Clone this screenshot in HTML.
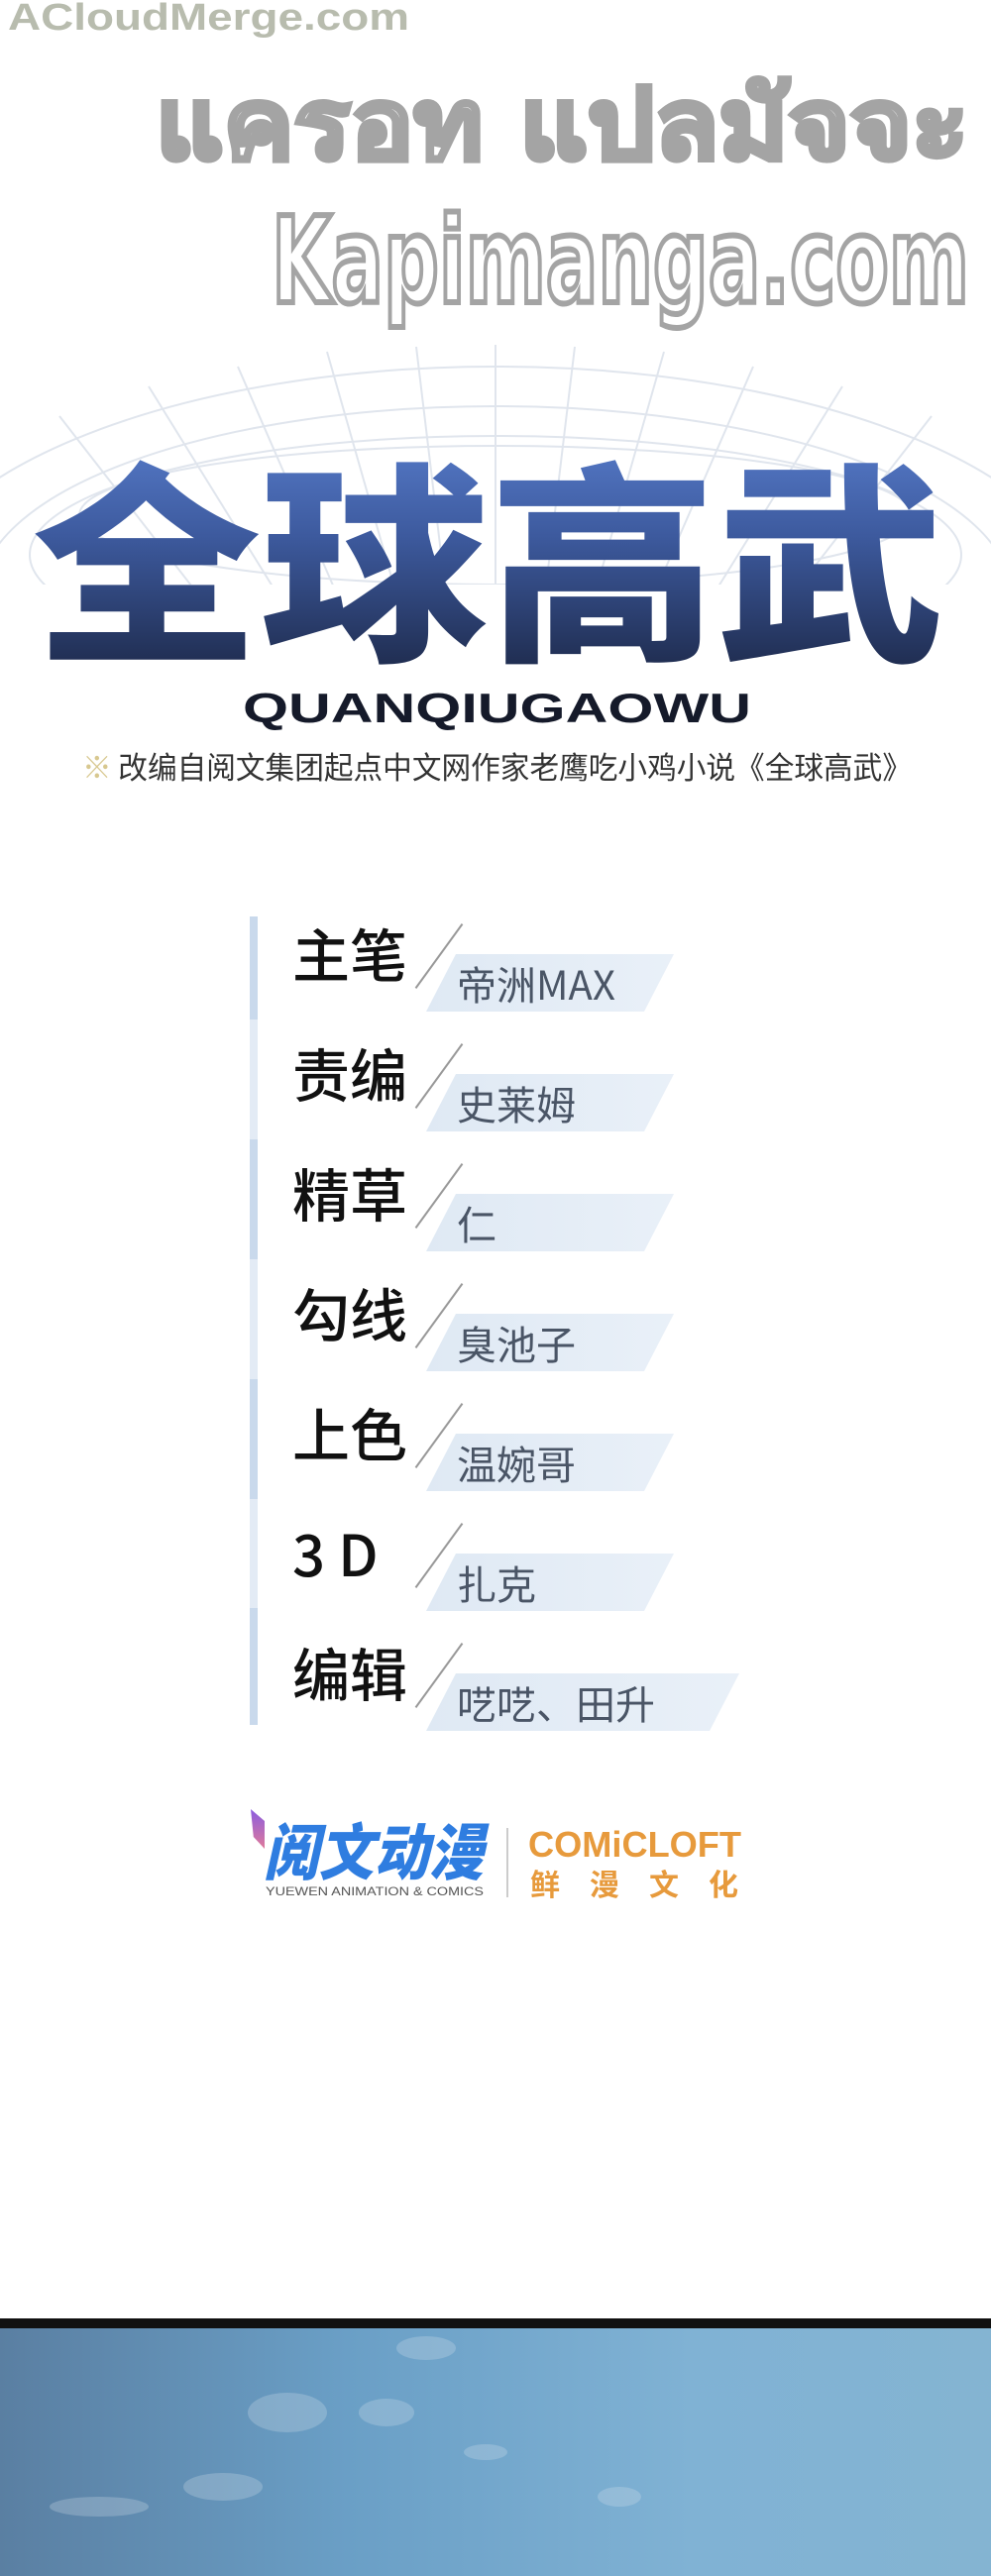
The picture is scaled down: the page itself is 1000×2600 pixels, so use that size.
<!DOCTYPE html>
<html><head><meta charset="utf-8">
<style>
html,body{margin:0;padding:0}
body{width:1000px;height:2600px;position:relative;background:#fff;overflow:hidden;font-family:"Liberation Sans","Noto Sans CJK SC",sans-serif}
.a{position:absolute;white-space:nowrap}
.lab{position:absolute;left:295px;font-size:58px;color:#111;font-family:"Noto Sans CJK SC",sans-serif;font-weight:500;line-height:1}
.band{position:absolute;left:430px;width:250px;height:58px;background:linear-gradient(90deg,#dfe9f4,#e9f0f8);clip-path:polygon(0 100%,30px 0,100% 0,calc(100% - 30px) 100%)}
.nm{position:absolute;left:461px;font-size:40px;color:#4a5566;font-family:"Noto Sans CJK SC",sans-serif;line-height:1}
.sl{position:absolute;width:2px;height:80px;background:#999;transform:rotate(36deg);transform-origin:center}
.seg{position:absolute;left:252px;width:8px}
</style></head><body>
<svg class="a" style="left:0;top:0" width="1000" height="820" viewBox="0 0 1000 820">
<defs><linearGradient id="g" x1="0" y1="0" x2="0" y2="1">
<stop offset="0" stop-color="#5f86d8"/><stop offset="0.45" stop-color="#3d5a9e"/><stop offset="1" stop-color="#17203a"/></linearGradient>
<clipPath id="c"><rect x="0" y="330" width="1000" height="260"/></clipPath></defs>
<text x="8" y="30" font-size="38" font-weight="bold" fill="#b8bcae" font-family="Liberation Sans" textLength="405" lengthAdjust="spacingAndGlyphs">ACloudMerge.com</text>
<text x="157" y="160" font-size="100" font-weight="bold" fill="#fff" stroke="#a4a4a4" stroke-width="5" font-family="DejaVu Sans" textLength="820" lengthAdjust="spacingAndGlyphs">แครอท แปลมัจจะ</text>
<text x="274" y="305" font-size="120" font-weight="bold" fill="#fff" stroke="#a4a4a4" stroke-width="6" font-family="DejaVu Sans" textLength="704" lengthAdjust="spacingAndGlyphs">Kapimanga.com</text>
<g fill="none" stroke="#d3dbe6" stroke-width="2" opacity="0.7" clip-path="url(#c)">
<ellipse cx="500" cy="620" rx="600" ry="250"/>
<ellipse cx="500" cy="600" rx="520" ry="190"/>
<ellipse cx="500" cy="560" rx="470" ry="120"/>
<ellipse cx="500" cy="520" rx="420" ry="70"/>
<path d="M60 420 L200 600 M150 390 L280 600 M240 370 L340 600 M330 355 L400 600 M420 350 L450 600 M500 348 L500 600 M580 350 L550 600 M670 355 L600 600 M760 370 L660 600 M850 390 L720 600 M940 420 L800 600"/>
</g>
<text x="33" y="650" font-size="215" font-weight="900" fill="url(#g)" font-family="Noto Sans CJK SC" textLength="920" lengthAdjust="spacingAndGlyphs">全球高武</text>
<text x="245" y="729" font-size="42" font-weight="bold" fill="#151a2a" font-family="Liberation Sans" textLength="513" lengthAdjust="spacingAndGlyphs">QUANQIUGAOWU</text>
<text x="83" y="786" font-size="31" fill="#333" font-family="Noto Sans CJK SC" textLength="837" lengthAdjust="spacingAndGlyphs"><tspan fill="#d8c890">※</tspan> 改编自阅文集团起点中文网作家老鹰吃小鸡小说《全球高武》</text>
</svg>

<div class="seg" style="top:925px;height:104px;background:#c9d9ec"></div>
<div class="seg" style="top:1029px;height:121px;background:#e3ebf5"></div>
<div class="seg" style="top:1150px;height:121px;background:#c9d9ec"></div>
<div class="seg" style="top:1271px;height:121px;background:#e3ebf5"></div>
<div class="seg" style="top:1392px;height:121px;background:#c9d9ec"></div>
<div class="seg" style="top:1513px;height:110px;background:#e3ebf5"></div>
<div class="seg" style="top:1623px;height:118px;background:#c9d9ec"></div>

<div class="band" style="top:963px"></div><div class="sl" style="left:442px;top:925px"></div><div class="lab" style="top:932px">主笔</div><div class="nm" style="top:972px">帝洲MAX</div>
<div class="band" style="top:1084px"></div><div class="sl" style="left:442px;top:1046px"></div><div class="lab" style="top:1053px">责编</div><div class="nm" style="top:1093px">史莱姆</div>
<div class="band" style="top:1205px"></div><div class="sl" style="left:442px;top:1167px"></div><div class="lab" style="top:1174px">精草</div><div class="nm" style="top:1214px">仁</div>
<div class="band" style="top:1326px"></div><div class="sl" style="left:442px;top:1288px"></div><div class="lab" style="top:1295px">勾线</div><div class="nm" style="top:1335px">臭池子</div>
<div class="band" style="top:1447px"></div><div class="sl" style="left:442px;top:1409px"></div><div class="lab" style="top:1416px">上色</div><div class="nm" style="top:1456px">温婉哥</div>
<div class="band" style="top:1568px"></div><div class="sl" style="left:442px;top:1530px"></div><div class="lab" style="top:1537px">3 D</div><div class="nm" style="top:1577px">扎克</div>
<div class="band" style="top:1689px;width:316px"></div><div class="sl" style="left:442px;top:1651px"></div><div class="lab" style="top:1658px">编辑</div><div class="nm" style="top:1698px">呓呓、田升</div>

<div class="a" style="left:253px;top:1826px;width:14px;height:40px;background:linear-gradient(180deg,#8a5ce0,#e07a9a);clip-path:polygon(0 0,100% 30%,100% 100%,20% 70%)"></div>
<svg class="a" style="left:250px;top:1820px" width="520" height="110">
<text x="16" y="72" font-size="62" font-weight="900" font-style="italic" fill="#2f7de0" font-family="Noto Sans CJK SC" textLength="222" lengthAdjust="spacingAndGlyphs">阅文动漫</text>
<text x="18" y="93" font-size="12" fill="#555" font-family="Liberation Sans" textLength="220" lengthAdjust="spacingAndGlyphs">YUEWEN ANIMATION &amp; COMICS</text>
<rect x="261" y="25" width="2" height="70" fill="#ccc"/>
<text x="283" y="54" font-size="36" font-weight="bold" fill="#e79a3c" font-family="Liberation Sans" textLength="215" lengthAdjust="spacingAndGlyphs">COMiCLOFT</text>
<text x="285" y="93" font-size="30" font-weight="bold" fill="#e79a3c" font-family="Noto Sans CJK SC" textLength="210" lengthAdjust="spacing">鲜漫文化</text>
</svg>

<div class="a" style="left:0;top:2340px;width:1000px;height:10px;background:#111"></div>
<div class="a" style="left:0;top:2350px;width:1000px;height:250px;background:linear-gradient(90deg,#5a7fa2 0%,#6a9fc6 35%,#80b2d4 70%,#84b4d2 100%)"></div>
<svg class="a" style="left:0;top:2350px" width="1000" height="250"><g fill="#dfe8f0" opacity="0.25">
<ellipse cx="290" cy="85" rx="40" ry="20"/><ellipse cx="430" cy="20" rx="30" ry="12"/><ellipse cx="390" cy="85" rx="28" ry="14"/><ellipse cx="225" cy="160" rx="40" ry="14"/><ellipse cx="490" cy="125" rx="22" ry="8"/><ellipse cx="625" cy="170" rx="22" ry="10"/><ellipse cx="100" cy="180" rx="50" ry="10"/></g></svg>
</body></html>
